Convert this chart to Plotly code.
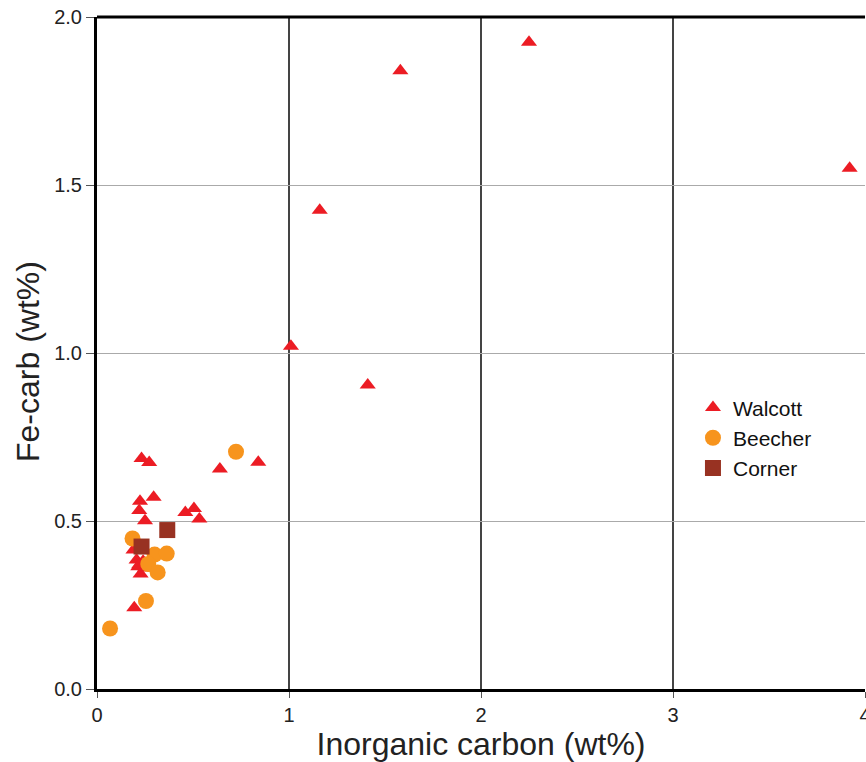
import plotly.graph_objects as go

walcott_x = [3.92, 2.25, 1.58, 1.16, 1.01, 1.41, 0.84, 0.64, 0.295, 0.232, 0.272, 0.224, 0.22, 0.25, 0.46, 0.505, 0.533, 0.194,
             0.19, 0.206, 0.215, 0.227, 0.24, 0.25, 0.22]
walcott_y = [1.55, 1.925, 1.84, 1.425, 1.02, 0.905, 0.675, 0.655, 0.571, 0.686, 0.674, 0.559, 0.531, 0.501, 0.525, 0.537, 0.506, 0.242,
             0.414, 0.384, 0.364, 0.342, 0.38, 0.36, 0.37]

beecher_x = [0.724, 0.185, 0.30, 0.363, 0.267, 0.316, 0.255, 0.068]
beecher_y = [0.706, 0.448, 0.40, 0.403, 0.372, 0.347, 0.262, 0.180]

corner_x = [0.366, 0.232]
corner_y = [0.473, 0.424]

fig = go.Figure()
fig.add_trace(go.Scatter(x=walcott_x, y=walcott_y, mode="markers", name="Walcott",
                         marker=dict(symbol="triangle-up", size=14, color="#ec1c24", line=dict(width=0))))
fig.add_trace(go.Scatter(x=beecher_x, y=beecher_y, mode="markers", name="Beecher",
                         marker=dict(symbol="circle", size=16, color="#f7941d", line=dict(width=0))))
fig.add_trace(go.Scatter(x=corner_x, y=corner_y, mode="markers", name="Corner",
                         marker=dict(symbol="square", size=16, color="#983222", line=dict(width=0))))

fnt = "Liberation Sans, Arial, Helvetica, sans-serif"
fig.update_layout(
    width=866, height=762,
    margin=dict(l=97, r=1, t=17, b=73, autoexpand=False),
    paper_bgcolor="white", plot_bgcolor="white",
    font=dict(family=fnt, color="#222"),
    showlegend=True,
    legend=dict(x=0.776, y=0.449, xanchor="left", yanchor="top", bgcolor="rgba(0,0,0,0)",
                font=dict(size=21, color="#111"), itemsizing="trace"),
    xaxis=dict(range=[0, 4.0], tickvals=[0, 1, 2, 3, 4], ticktext=["0", "1", "2", "3", "4"],
               automargin=False, ticklabeloverflow="allow",
               showgrid=True, gridcolor="#444", gridwidth=1.5,
               showline=True, linecolor="black", linewidth=3,
               ticks="outside", ticklen=6, tickcolor="#555", tickwidth=1,
               tickfont=dict(size=20, color="#222"), zeroline=False,
               title=dict(text="Inorganic carbon (wt%)", font=dict(size=32, color="#222"), standoff=10)),
    yaxis=dict(range=[0, 2.0], tickvals=[0, 0.5, 1.0, 1.5, 2.0], ticktext=["0.0", "0.5", "1.0", "1.5", "2.0"],
               automargin=False, ticklabeloverflow="allow",
               showgrid=True, gridcolor="#aaa", gridwidth=1,
               showline=True, linecolor="black", linewidth=3,
               ticks="outside", ticklen=8, tickcolor="#555", tickwidth=1,
               tickfont=dict(size=20, color="#222"), zeroline=False),
    annotations=[dict(text="Fe-carb (wt%)", xref="paper", yref="paper", x=0, y=0.4866,
                      xshift=-69, xanchor="center", yanchor="middle", textangle=-90, showarrow=False,
                      font=dict(size=32, color="#222"))],
    shapes=[dict(type="line", xref="paper", yref="paper", x0=0, x1=1, y0=1, y1=1,
                 line=dict(color="black", width=3))],
)

fig.write_html("out.html", config={"displayModeBar": False},
               post_script="document.body.style.margin='0';document.body.style.overflow='hidden';")
